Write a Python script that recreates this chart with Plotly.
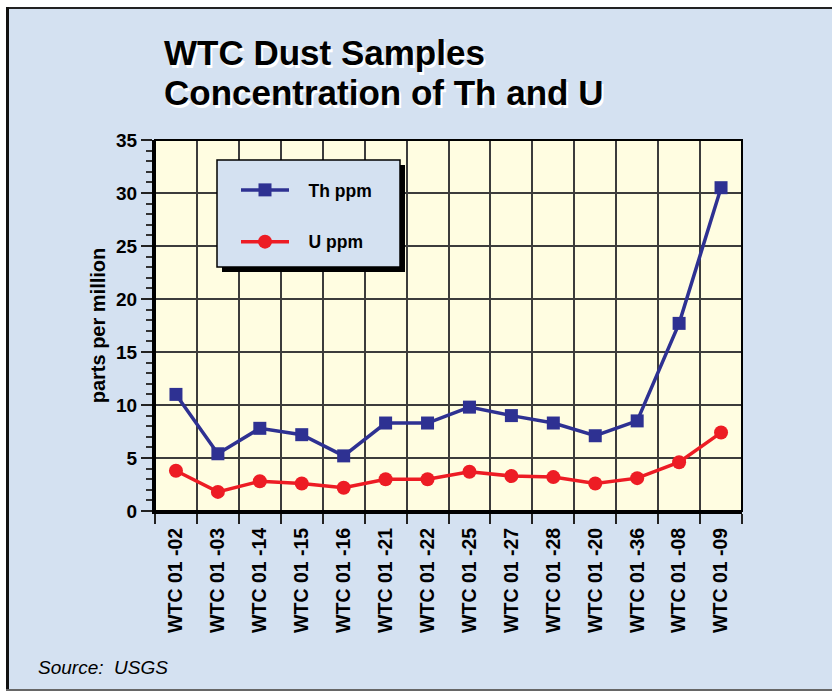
import plotly.graph_objects as go

# Sample identifiers along the x axis
samples = ["WTC 01 -02", "WTC 01 -03", "WTC 01 -14", "WTC 01 -15", "WTC 01 -16",
           "WTC 01 -21", "WTC 01 -22", "WTC 01 -25", "WTC 01 -27", "WTC 01 -28",
           "WTC 01 -20", "WTC 01 -36", "WTC 01 -08", "WTC 01 -09"]

# Concentrations in parts per million
th_ppm = [11.0, 5.4, 7.8, 7.2, 5.2, 8.3, 8.3, 9.8, 9.0, 8.3, 7.1, 8.5, 17.7, 30.5]
u_ppm = [3.8, 1.8, 2.8, 2.6, 2.2, 3.0, 3.0, 3.7, 3.3, 3.2, 2.6, 3.1, 4.6, 7.4]

y_ticks = [0, 5, 10, 15, 20, 25, 30, 35]

W, H = 832, 691
L, R, T, B = 155, 742, 140, 511   # plot area edges in pixels

def fx(px):
    return (px - L) / (R - L)

def fy(py):
    return (B - py) / (B - T)

FONT = "Liberation Sans, Arial, sans-serif"
BG = "#D4E1F1"
PLOT_BG = "#FFFDE1"
TH_COLOR = "#2E3192"
U_COLOR = "#ED1C24"
GRID = "#3C3C3C"

fig = go.Figure()
fig.add_trace(go.Scatter(
    x=samples, y=th_ppm, name="\u00a0\u00a0\u00a0Th ppm", legendgroup="th",
    mode="lines+markers",
    line=dict(color=TH_COLOR, width=3.5),
    marker=dict(symbol="square", size=13, color=TH_COLOR),
))
fig.add_trace(go.Scatter(
    x=samples, y=u_ppm, name="\u00a0\u00a0\u00a0U ppm", legendgroup="u",
    mode="lines+markers",
    line=dict(color=U_COLOR, width=3.5),
    marker=dict(symbol="circle", size=14, color=U_COLOR),
))

shapes = []
# outer frame: white margins with dark rules on top and left, grey rule at bottom
shapes.append(dict(type="rect", xref="paper", yref="paper",
                   x0=fx(0), x1=fx(W), y0=fy(0), y1=fy(7),
                   fillcolor="white", line=dict(width=0), layer="above"))
shapes.append(dict(type="rect", xref="paper", yref="paper",
                   x0=fx(0), x1=fx(6), y0=fy(0), y1=fy(H),
                   fillcolor="white", line=dict(width=0), layer="above"))
shapes.append(dict(type="line", xref="paper", yref="paper",
                   x0=fx(6), x1=fx(W), y0=fy(8), y1=fy(8),
                   line=dict(color="#222222", width=2), layer="above"))
shapes.append(dict(type="line", xref="paper", yref="paper",
                   x0=fx(7.5), x1=fx(7.5), y0=fy(7), y1=fy(H),
                   line=dict(color="#111111", width=3), layer="above"))
shapes.append(dict(type="line", xref="paper", yref="paper",
                   x0=fx(6), x1=fx(W), y0=fy(690), y1=fy(690),
                   line=dict(color="#666666", width=2), layer="above"))
# plot area border
shapes.append(dict(type="rect", xref="paper", yref="paper",
                   x0=0, x1=1, y0=0, y1=1,
                   line=dict(color="black", width=2), layer="above"))
# legend panel with drop shadow
shapes.append(dict(type="rect", xref="paper", yref="paper",
                   x0=fx(222), x1=fx(405), y0=fy(272), y1=fy(165),
                   fillcolor="black", line=dict(width=0), layer="above"))
shapes.append(dict(type="rect", xref="paper", yref="paper",
                   x0=fx(217), x1=fx(400), y0=fy(267), y1=fy(160),
                   fillcolor=BG, line=dict(color="black", width=1.5), layer="above"))

annotations = []
title_lines = [("WTC Dust Samples", 52), ("Concentration of Th and U", 93)]
for text, cy in title_lines:
    annotations.append(dict(text="<b>%s</b>" % text, xref="paper", yref="paper",
                            x=fx(162), y=fy(cy), xanchor="left", yanchor="middle",
                            showarrow=False,
                            font=dict(family=FONT, size=35, color="black",
                                      shadow="2px 3px 0px white")))
annotations.append(dict(text="Source:\u00a0\u00a0USGS", xref="paper", yref="paper",
                        x=fx(36), y=fy(667), xanchor="left", yanchor="middle",
                        showarrow=False,
                        font=dict(family=FONT, size=19, color="black", style="italic")))

fig.update_layout(
    width=W, height=H,
    margin=dict(l=L, r=W - R, t=T, b=H - B, autoexpand=False),
    paper_bgcolor=BG, plot_bgcolor=PLOT_BG,
    font=dict(family=FONT, color="black"),
    shapes=shapes, annotations=annotations,
    showlegend=True,
    legend=dict(
        x=fx(236), y=fy(172), xanchor="left", yanchor="top",
        bgcolor="rgba(0,0,0,0)", borderwidth=0,
        font=dict(family=FONT, size=17.5, color="black", weight="bold"),
        itemwidth=48, traceorder="grouped", tracegroupgap=26,
    ),
)

fig.update_xaxes(
    type="category", range=[-0.5, len(samples) - 0.5], tickson="boundaries",
    showgrid=True, gridcolor=GRID, gridwidth=1.5,
    showline=True, linecolor="black", linewidth=3,
    ticks="outside", ticklen=10, tickwidth=1.5, tickcolor="#222222",
    tickangle=-90, ticklabelstandoff=6,
    tickfont=dict(family=FONT, size=19.5, color="black", weight="bold"),
    zeroline=False, automargin=False,
)
fig.update_yaxes(
    range=[0, 35], tickvals=y_ticks,
    showgrid=True, gridcolor=GRID, gridwidth=1.5,
    showline=True, linecolor="black", linewidth=3,
    ticks="outside", ticklen=11, tickwidth=1.5, tickcolor="#222222",
    minor=dict(dtick=1, ticks="outside", ticklen=6, tickwidth=1.5,
               tickcolor="#333333", showgrid=False),
    ticklabelstandoff=0,
    tickfont=dict(family=FONT, size=19, color="black", weight="bold"),
    title=dict(text="parts per million", standoff=6,
               font=dict(family=FONT, size=20, color="black", weight="bold")),
    zeroline=False, automargin=False,
)

fig.write_html("out.html")
